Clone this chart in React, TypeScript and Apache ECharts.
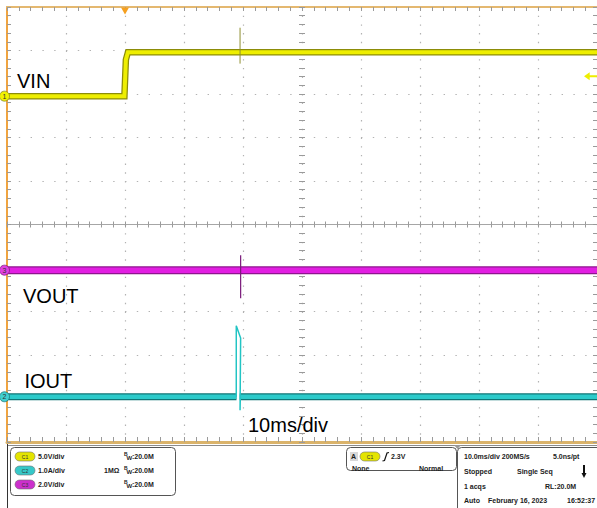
import React, { useEffect, useRef } from "react";
import * as echarts from "echarts";

const FONT = '"Liberation Sans", Arial, Helvetica, sans-serif';

// Time base: ms relative to trigger, 10 ms/div, 10 divisions
const timeMin = -20;
const timeMax = 80;
const timePerDiv = 10;

// VIN (CH1, 5 V/div)
const vinTime = [-20, -0.1, 0.15, 0.5, 80];
const vinValue = [0, 0, 4.2, 5.05, 5.05];
const vinGlitchTime = [19.5, 19.5];
const vinGlitchValue = [7.87, 3.74];

// VOUT (CH3, 2 V/div)
const voutTime = [-20, 80];
const voutValue = [0, 0];
const voutGlitchTime = [19.6, 19.6];
const voutGlitchValue = [0.69, -1.29];

// IOUT (CH2, 1 A/div)
const ioutTime = [-20, 18.9, 19.2, 19.45, 80];
const ioutValue: (number | null)[] = [0, 0, null, 0, 0];
const ioutGlitchTime = [18.86, 18.86, 19.6, 19.5, 19.55];
const ioutGlitchValue = [0, 1.63, 1.35, -0.31, 0];

const triggerLevel = 2.3; // V on CH1
const triggerTime = 0;

// channel settings: scale and ground-marker position (divisions from centre)
const vinScale = { perDiv: 5, posDiv: 2.95 };
const ioutScale = { perDiv: 1, posDiv: -3.96 };
const voutScale = { perDiv: 2, posDiv: -1.05 };

const DIVS = 10;

const zip = (ts: number[], vs: (number | null)[]) =>
  ts.map((t, i) => [t, vs[i] == null ? "-" : vs[i]]);

const range = (s: { perDiv: number; posDiv: number }) => ({
  min: (-DIVS / 2 - s.posDiv) * s.perDiv,
  max: (DIVS / 2 - s.posDiv) * s.perDiv,
});

const YEL = "#eeee00";
const YEL_D = "#8c8c08";
const MAG = "#e21ee2";
const MAG_D = "#8e158e";
const CYA = "#2ccaca";
const CYA_D = "#0e7676";

const GRID = { left: 7, top: 7, width: 590, height: 435 };

function buildOption() {
  const vinR = range(vinScale);
  const ioutR = range(ioutScale);
  const voutR = range(voutScale);

  const hiddenY = (r: { min: number; max: number }) => ({
    type: "value",
    gridIndex: 0,
    min: r.min,
    max: r.max,
    show: false,
    axisLine: { onZero: false },
    splitLine: { show: false },
  });

  const tickGray = "#9a9a9a";
  const divAxisX = (gridIndex: number, position: string, extra: any) => ({
    type: "value",
    gridIndex,
    min: -5,
    max: 5,
    interval: 1,
    position,
    axisLabel: { show: false },
    splitLine: { show: false },
    ...extra,
  });
  const divAxisY = divAxisX;

  const grids = [0, 1, 2, 3].map(() => ({ ...GRID, containLabel: false, outerBoundsMode: "none" }));

  const line = (
    data: any[],
    yAxisIndex: number,
    color: string,
    width: number,
    z: number,
    extra: any = {}
  ) => ({
    type: "line",
    data,
    xAxisIndex: 0,
    yAxisIndex,
    symbol: "none",
    showSymbol: false,
    connectNulls: false,
    silent: true,
    animation: false,
    lineStyle: { color, width, cap: "butt", join: "miter" },
    z,
    ...extra,
  });

  const chMarker = (label: string, color: string, border: string) => ({
    coord: [timeMin, 0],
    symbol: "circle",
    symbolSize: 10,
    symbolOffset: [-2.5, 0],
    itemStyle: { color, borderColor: border, borderWidth: 0.8 },
    label: { show: true, formatter: label, fontSize: 7, color: "#333", fontFamily: FONT, position: "inside" },
  });

  const vinData = zip(vinTime, vinValue);
  const voutData = zip(voutTime, voutValue);
  const ioutData = zip(ioutTime, ioutValue);

  const series = [
    line(vinData, 0, YEL_D, 6.5, 3),
    line(vinData, 0, YEL, 4, 4, {
      markPoint: {
        silent: true,
        animation: false,
        data: [
          chMarker("1", "#f2f200", "#8a8a30"),
          {
            coord: [timeMax, triggerLevel],
            symbol: "path://M0,4L7,0L7,3L16,3L16,5L7,5L7,8Z",
            symbolSize: [13, 8],
            symbolOffset: [-6.5, 0],
            itemStyle: { color: "#eeee00" },
            label: { show: false },
          },
          {
            coord: [triggerTime, vinR.max],
            symbol: "triangle",
            symbolRotate: 180,
            symbolSize: [8, 7],
            symbolOffset: [0, 4],
            itemStyle: { color: "#f5a020" },
            label: { show: false },
          },
        ],
      },
    }),
    line(zip(vinGlitchTime, vinGlitchValue), 0, "#8f8f30", 1, 6),
    line(voutData, 2, MAG_D, 8, 3),
    line(voutData, 2, MAG, 5.5, 4, {
      markPoint: { silent: true, animation: false, data: [chMarker("3", "#e040e0", "#802080")] },
    }),
    line(zip(voutGlitchTime, voutGlitchValue), 2, "#7a1a7a", 1.2, 6),
    line(ioutData, 1, CYA_D, 7, 3),
    line(ioutData, 1, CYA, 4.5, 4, {
      markPoint: { silent: true, animation: false, data: [chMarker("2", "#40d0d0", "#207878")] },
    }),
    line(zip(ioutGlitchTime, ioutGlitchValue), 1, "#22c4c4", 1.5, 6),
  ];

  const txt = (text: string, x: number, y: number, size = 7, weight: any = "bold", extra: any = {}) => ({
    type: "text",
    x,
    y,
    silent: true,
    z: 20,
    style: {
      text,
      fontSize: size,
      fontWeight: weight,
      fontFamily: FONT,
      fill: "#1c1c1c",
      align: "left",
      verticalAlign: "middle",
      ...extra,
    },
  });

  const badge = (label: string, x: number, y: number, color: string) => [
    {
      type: "rect",
      z: 20,
      silent: true,
      shape: { x, y: y - 4.5, width: 20, height: 9, r: 4.5 },
      style: { fill: color, stroke: "#707070", lineWidth: 0.6 },
    },
    txt(label, x + 10, y, 5, "normal", { align: "center", fill: "#333" }),
  ];

  const bw = (x: number, y: number) => [
    txt("B", x, y - 3, 5, "bold"),
    txt("W", x + 2.5, y + 1, 6, "bold"),
    txt(":20.0M", x + 8, y, 7, "bold"),
  ];

  const graphic: any[] = [
    // trace labels
    txt("VIN", 17, 81, 20, "normal", { fill: "#000" }),
    txt("VOUT", 23, 295.5, 20, "normal", { fill: "#000" }),
    txt("IOUT", 24.5, 380.5, 20, "normal", { fill: "#000" }),
    txt("10ms/div", 248, 425, 20, "normal", { fill: "#000" }),

    // panel separators
    { type: "line", z: 20, silent: true, shape: { x1: 7, y1: 445.5, x2: 597, y2: 445.5 }, style: { stroke: "#8c8c8c", lineWidth: 1 } },
    { type: "line", z: 20, silent: true, shape: { x1: 7.5, y1: 444, x2: 7.5, y2: 508 }, style: { stroke: "#333", lineWidth: 1 } },
    { type: "polygon", z: 20, silent: true, shape: { points: [[454, 445], [461, 445], [457.5, 449]] }, style: { fill: "#999" } },

    // box 1: channel settings
    { type: "rect", z: 19, silent: true, shape: { x: 10.5, y: 447.5, width: 165, height: 48, r: 4 }, style: { fill: "#fff", stroke: "#555", lineWidth: 1 } },
    ...badge("C1", 15, 456.5, "#e4e400"),
    txt("5.0V/div", 38, 456.5),
    ...bw(124, 456.5),
    ...badge("C2", 15, 470.5, "#36c8c8"),
    txt("1.0A/div", 38, 470.5),
    txt("1MΩ", 104, 470.5),
    ...bw(124, 470.5),
    ...badge("C3", 15, 484.5, "#cc30cc"),
    txt("2.0V/div", 38, 484.5),
    ...bw(124, 484.5),

    // box 2: trigger
    { type: "rect", z: 19, silent: true, shape: { x: 346.5, y: 447.5, width: 110, height: 23, r: 4 }, style: { fill: "#fff", stroke: "#555", lineWidth: 1 } },
    { type: "rect", z: 20, silent: true, shape: { x: 350, y: 452, width: 8, height: 9 }, style: { fill: "#d8d8d8" } },
    txt("A", 351, 456.5),
    ...badge("C1", 360, 456.5, "#e4e400"),
    { type: "polyline", z: 20, silent: true, shape: { points: [[382.5, 461], [384.5, 460.5], [387, 453], [389, 452.5]] }, style: { stroke: "#111", lineWidth: 1.2, fill: null } },
    txt("2.3V", 391, 456.5),
    txt("None", 352, 468),
    txt("Normal", 419, 468),

    // box 3: acquisition
    { type: "rect", z: 19, silent: true, shape: { x: 457.5, y: 447.5, width: 150, height: 70, r: 4 }, style: { fill: "#fff", stroke: "#555", lineWidth: 1 } },
    txt("10.0ms/div 200MS/s", 464, 456),
    txt("5.0ns/pt", 553, 456),
    txt("Stopped", 464, 471),
    txt("Single Seq", 517, 471),
    { type: "rect", z: 20, silent: true, shape: { x: 583, y: 465, width: 2, height: 9 }, style: { fill: "#111" } },
    { type: "polygon", z: 20, silent: true, shape: { points: [[581.5, 473], [586.5, 473], [584, 478]] }, style: { fill: "#111" } },
    txt("1 acqs", 464, 486),
    txt("RL:20.0M", 545, 486),
    txt("Auto", 464, 500),
    txt("February 16, 2023", 488, 500),
    txt("16:52:37", 567, 500),
  ];

  return {
    animation: false,
    backgroundColor: "#ffffff",
    grid: grids,
    xAxis: [
      {
        type: "value",
        gridIndex: 0,
        min: timeMin,
        max: timeMax,
        interval: timePerDiv,
        axisLine: { show: false, onZero: false },
        axisTick: { show: false },
        axisLabel: { show: false },
        splitLine: { show: true, lineStyle: { color: "#b2b2b2", width: 1.2, type: [1.4, 7.3] } },
      },
      divAxisX(1, "top", {
        axisLine: { show: true, onZero: false, lineStyle: { color: "#e4b870", width: 2 } },
        axisTick: { show: true, inside: true, length: 4, lineStyle: { color: tickGray } },
        minorTick: { show: true, splitNumber: 5, length: 4, lineStyle: { color: tickGray } },
      }),
      divAxisX(1, "bottom", {
        axisLine: { show: true, onZero: false, lineStyle: { color: "#dab36b", width: 3 } },
        axisTick: { show: true, inside: true, length: 5, lineStyle: { color: tickGray } },
        minorTick: { show: true, splitNumber: 5, length: 5, lineStyle: { color: tickGray } },
      }),
      divAxisX(2, "bottom", {
        axisLine: { show: true, onZero: true, lineStyle: { color: "#a6a6a6", width: 1 } },
        axisTick: { show: true, inside: true, length: 3, lineStyle: { color: tickGray } },
        minorTick: { show: true, splitNumber: 5, length: 3, lineStyle: { color: tickGray } },
      }),
      divAxisX(3, "bottom", {
        axisLine: { show: false, onZero: true },
        axisTick: { show: true, inside: false, length: 3, lineStyle: { color: tickGray } },
        minorTick: { show: true, splitNumber: 5, length: 3, lineStyle: { color: tickGray } },
      }),
    ],
    yAxis: [
      hiddenY(vinR),
      hiddenY(ioutR),
      hiddenY(voutR),
      divAxisY(1, "left", {
        axisLine: { show: true, onZero: false, lineStyle: { color: "#f0a440", width: 2 } },
        axisTick: { show: true, inside: true, length: 4, lineStyle: { color: tickGray } },
        minorTick: { show: true, splitNumber: 5, length: 4, lineStyle: { color: tickGray } },
        splitLine: { show: true, lineStyle: { color: "#b2b2b2", width: 1.2, type: [1.4, 10.4] } },
      }),
      divAxisY(1, "right", {
        axisLine: { show: false, onZero: false },
        axisTick: { show: true, inside: true, length: 4, lineStyle: { color: tickGray } },
        minorTick: { show: true, splitNumber: 5, length: 4, lineStyle: { color: tickGray } },
      }),
      divAxisY(2, "left", {
        axisLine: { show: false, onZero: true },
        axisTick: { show: true, inside: true, length: 3, lineStyle: { color: tickGray } },
        minorTick: { show: true, splitNumber: 5, length: 3, lineStyle: { color: tickGray } },
      }),
      divAxisY(3, "left", {
        axisLine: { show: false, onZero: true },
        axisTick: { show: true, inside: false, length: 3, lineStyle: { color: tickGray } },
        minorTick: { show: true, splitNumber: 5, length: 3, lineStyle: { color: tickGray } },
      }),
    ],
    series,
    graphic,
  };
}

export default function App() {
  const ref = useRef<HTMLDivElement>(null);
  useEffect(() => {
    if (!ref.current) return;
    const chart = echarts.init(ref.current, null, { renderer: "svg" });
    chart.setOption(buildOption() as any);
    return () => chart.dispose();
  }, []);
  return (
    <div
      ref={ref}
      style={{ position: "absolute", left: 0, top: 0, width: 597, height: 508, background: "#fff" }}
    />
  );
}
